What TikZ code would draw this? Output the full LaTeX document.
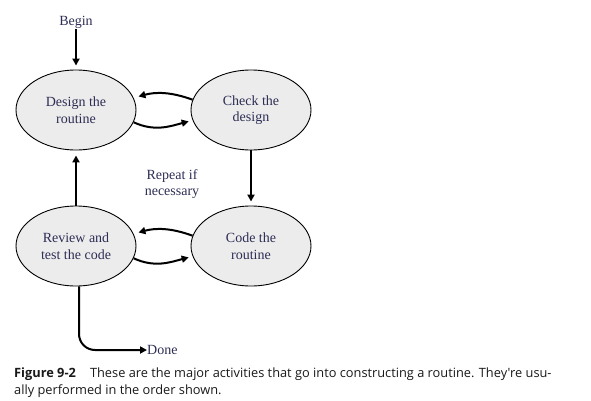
\documentclass[tikz,border=0pt]{standalone}
\usepackage{fontspec}
\setmainfont{Liberation Serif}
\newfontfamily\capfont{Open Sans}
\usetikzlibrary{shapes.geometric,arrows.meta}
\definecolor{txtc}{RGB}{45,45,85}
\definecolor{fillc}{RGB}{236,236,236}
\definecolor{capc}{RGB}{25,25,25}
\tikzset{
  act/.style={ellipse, draw=black, line width=0.9pt, fill=fillc, minimum width=120pt, minimum height=80pt, inner sep=0pt, align=center, text=txtc, font=\fontsize{14}{16.5}\selectfont},
  lbl/.style={text=txtc, align=center, inner sep=0pt, font=\fontsize{14}{16.5}\selectfont},
  arr/.style={line width=2.2pt, -{Triangle[length=7pt,width=7pt]}},
  carr/.style={line width=2pt, -{Triangle[length=7pt,width=7pt]}}
}
\begin{document}
\begin{tikzpicture}[x=1pt,y=1pt]
\useasboundingbox (0,0) rectangle (591,400);
\node[act] (design) at (76,290) {Design the\\routine};
\node[act] (check) at (251,290) {Check the\\design};
\node[act] (review) at (76,154) {Review and\\test the code};
\node[act] (code) at (251,154) {Code the\\routine};
\node[lbl] (begin) at (76,378) {Begin};
\node[lbl] (repeat) at (172,216) {Repeat if\\necessary};
\node[lbl, anchor=west] (done) at (147,50) {Done};
\node[anchor=north west, align=left, inner sep=0pt, text=capc, font=\capfont\fontsize{12.8}{17}\selectfont] (cap) at (14,32)
  {\textbf{Figure 9-2}\hspace{1.1em}These are the major activities that go into constructing a routine. They're usu-\\ally performed in the order shown.};
\draw[arr, shorten <=1pt, shorten >=4pt] (begin.south) -- (design.north);
\draw[arr, shorten >=5pt] (review.north) -- (design.south);
\draw[arr, shorten >=4pt] (check.south) -- (code.north);
\draw[carr, shorten >=5pt] (check.170) to[out=160,in=15] (design.12);
\draw[carr, shorten >=4pt] (design.348) to[out=-25,in=195] (check.190);
\draw[carr, shorten >=5pt] (code.170) to[out=160,in=15] (review.12);
\draw[carr, shorten >=4pt] (review.348) to[out=-25,in=195] (code.190);
\draw[carr, rounded corners=16pt] ([xshift=3pt]review.south) |- (done.west);
\end{tikzpicture}
\end{document}
